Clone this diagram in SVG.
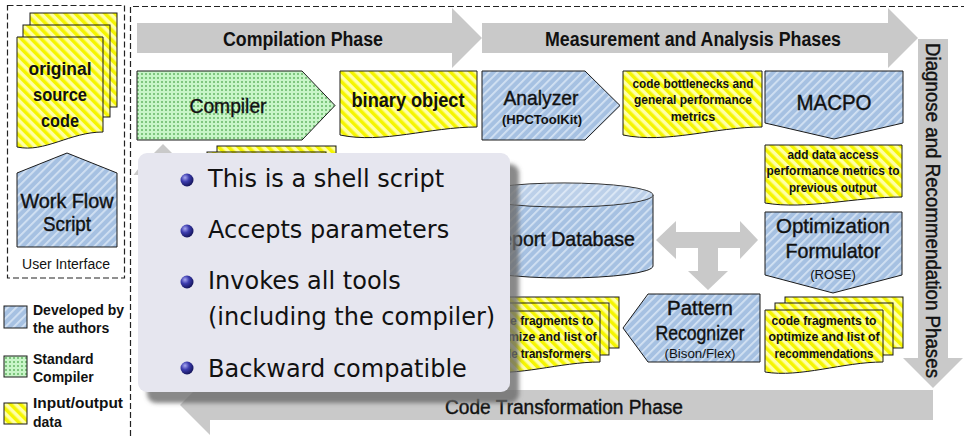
<svg xmlns="http://www.w3.org/2000/svg" width="964" height="436" viewBox="0 0 964 436">
<defs>
<pattern id="pb" width="6" height="6" patternUnits="userSpaceOnUse" patternTransform="rotate(45)">
<rect width="6" height="6" fill="#a6c1e2"/><rect width="1.8" height="6" fill="#d3e2f3"/>
</pattern>
<pattern id="py" width="7" height="7" patternUnits="userSpaceOnUse" patternTransform="rotate(-45)">
<rect width="7" height="7" fill="#ffffa6"/><rect width="3.5" height="7" fill="#f5f500"/>
</pattern>
<pattern id="pg" width="4" height="4" patternUnits="userSpaceOnUse">
<rect width="4" height="4" fill="#c8f5c8"/><circle cx="2" cy="2" r="0.8" fill="#1f8a1f"/>
</pattern>
<radialGradient id="ball" cx="0.35" cy="0.32" r="0.7">
<stop offset="0" stop-color="#a8a8f0"/><stop offset="0.45" stop-color="#3c3cae"/><stop offset="1" stop-color="#14145a"/>
</radialGradient>
<filter id="blur" x="-10%" y="-10%" width="120%" height="120%"><feGaussianBlur stdDeviation="2.2"/></filter>
</defs>
<style>
.o{stroke:#1a1a1a;stroke-width:1}
.blue{fill:url(#pb)}
.yel{fill:url(#py)}
.grn{fill:url(#pg)}
.ph{fill:#c9c9c9}
text{font-family:"Liberation Sans",Arial,sans-serif;fill:#111}
.b{font-weight:bold}
.t{stroke:#111;stroke-width:0.4}
.m{text-anchor:middle}
.pop{font-family:"DejaVu Sans","Liberation Sans",sans-serif;font-size:24px}
.dash{fill:none;stroke:#222;stroke-width:1.2;stroke-dasharray:6 3}
</style>
<rect width="964" height="436" fill="#fff"/>

<g id="frames">
<rect class="dash" x="7.5" y="5.5" width="117" height="272.5"/>
<path class="dash" d="M130.5,436 V6.5 H964"/>
</g>

<g id="phases">
<g id="phase-compilation">
<polygon class="ph" points="137,23 452,23 452,8 482,38 452,68 452,53 137,53"/>
<text class="b m" x="303" y="46" font-size="20" textLength="160" lengthAdjust="spacingAndGlyphs">Compilation Phase</text>
</g>
<g id="phase-measurement">
<polygon class="ph" points="482,23 888,23 888,8 918,38 888,68 888,53 482,53"/>
<text class="b m" x="693" y="46" font-size="20" textLength="296" lengthAdjust="spacingAndGlyphs">Measurement and Analysis Phases</text>
</g>
<g id="phase-diagnose">
<polygon class="ph" points="918,39 948,39 948,358 963,358 933,388 903,358 918,358"/>
<text class="m t" font-size="20" textLength="335" lengthAdjust="spacingAndGlyphs" transform="translate(926,210.5) rotate(90)">Diagnose and Recommendation Phases</text>
</g>
<g id="phase-transformation">
<polygon class="ph" points="933,390 210,390 210,375 180,405 210,435 210,420 933,420"/>
<text class="m t" x="564" y="414" font-size="20" textLength="238" lengthAdjust="spacingAndGlyphs">Code Transformation Phase</text>
</g>
</g>

<g id="source-code">
<rect class="yel o" x="30" y="13" width="87" height="94"/>
<rect class="yel o" x="23" y="25" width="87" height="92"/>
<path class="yel o" d="M17,37 H103 V132 C70,132 45,153 17,147 Z"/>
<text class="b m" x="60" y="75" font-size="19" textLength="63" lengthAdjust="spacingAndGlyphs">original</text>
<text class="b m" x="60" y="101" font-size="19" textLength="54" lengthAdjust="spacingAndGlyphs">source</text>
<text class="b m" x="60" y="127" font-size="19" textLength="38" lengthAdjust="spacingAndGlyphs">code</text>
</g>

<g id="workflow-script">
<path class="blue o" d="M17,173 L67,153 L117,173 V247 H17 Z"/>
<text class="m t" x="67" y="208" font-size="21" textLength="93" lengthAdjust="spacingAndGlyphs">Work Flow</text>
<text class="m t" x="67" y="231" font-size="21" textLength="48" lengthAdjust="spacingAndGlyphs">Script</text>
</g>

<g id="user-interface-label">
<text class="m" x="66" y="269" font-size="14">User Interface</text>
</g>

<g id="legend">
<rect class="blue o" x="4" y="306" width="23" height="22"/>
<text class="b" x="33" y="315" font-size="14">Developed by</text>
<text class="b" x="33" y="333" font-size="14">the authors</text>
<rect class="grn o" x="4" y="356" width="23" height="21"/>
<text class="b" x="33" y="364" font-size="14">Standard</text>
<text class="b" x="33" y="382" font-size="14">Compiler</text>
<rect class="yel o" x="4" y="403" width="23" height="21"/>
<text class="b" x="33" y="408" font-size="14" textLength="90" lengthAdjust="spacingAndGlyphs">Input/output</text>
<text class="b" x="33" y="427" font-size="14">data</text>
</g>

<g id="compiler">
<path class="grn o" d="M137,71 H302 L335,105.5 L302,140 H137 Z"/>
<text class="m t" x="228" y="113" font-size="21" textLength="77" lengthAdjust="spacingAndGlyphs">Compiler</text>
</g>

<g id="binary-object">
<path class="yel o" d="M340,71 H477 V127 C430,127 382,144 340,135 Z"/>
<text class="b m" x="408" y="107" font-size="20" textLength="113" lengthAdjust="spacingAndGlyphs">binary object</text>
</g>

<g id="analyzer">
<path class="blue o" d="M482,71 H585 L620,105.5 L585,140 H482 Z"/>
<text class="m t" x="541" y="105" font-size="21" textLength="75" lengthAdjust="spacingAndGlyphs">Analyzer</text>
<text class="b m" x="542" y="124" font-size="13" textLength="80" lengthAdjust="spacingAndGlyphs">(HPCToolKit)</text>
</g>

<g id="bottlenecks">
<path class="yel o" d="M623,71 H762 V127 C715,127 666,144 623,135 Z"/>
<text class="b m" x="693" y="88" font-size="12.5" textLength="121" lengthAdjust="spacingAndGlyphs">code bottlenecks and</text>
<text class="b m" x="693" y="104" font-size="12.5" textLength="118" lengthAdjust="spacingAndGlyphs">general performance</text>
<text class="b m" x="693" y="121" font-size="12.5">metrics</text>
</g>

<g id="macpo">
<path class="blue o" d="M765,71 H903 V123 L834,139 L765,123 Z"/>
<text class="m t" x="834" y="110" font-size="22" textLength="75" lengthAdjust="spacingAndGlyphs">MACPO</text>
</g>

<g id="data-access">
<path class="yel o" d="M765,145 H902 V197 C855,197 806,210 765,203 Z"/>
<text class="b m" x="833" y="159" font-size="12.5" textLength="91" lengthAdjust="spacingAndGlyphs">add data access</text>
<text class="b m" x="833" y="175" font-size="12.5" textLength="133" lengthAdjust="spacingAndGlyphs">performance metrics to</text>
<text class="b m" x="833" y="192" font-size="12.5" textLength="88" lengthAdjust="spacingAndGlyphs">previous output</text>
</g>

<g id="optimization-formulator">
<path class="blue o" d="M765,212 H902 V275 L833,293 L765,275 Z"/>
<text class="m t" x="833" y="233" font-size="21" textLength="114" lengthAdjust="spacingAndGlyphs">Optimization</text>
<text class="m t" x="833" y="258" font-size="21" textLength="95" lengthAdjust="spacingAndGlyphs">Formulator</text>
<text class="m" x="833" y="279" font-size="13">(ROSE)</text>
</g>

<g id="recommendations">
<rect class="yel o" x="785" y="297" width="118" height="51"/>
<rect class="yel o" x="775" y="303" width="118" height="52"/>
<path class="yel o" d="M765,310 H883 V362 C843,362 800,378 765,372 Z"/>
<text class="b m" x="824" y="325" font-size="12.5" textLength="105" lengthAdjust="spacingAndGlyphs">code fragments to</text>
<text class="b m" x="824" y="341" font-size="12.5" textLength="111" lengthAdjust="spacingAndGlyphs">optimize and list of</text>
<text class="b m" x="824" y="358" font-size="12.5" textLength="99" lengthAdjust="spacingAndGlyphs">recommendations</text>
</g>

<g id="pattern-recognizer">
<path class="blue o" d="M760,294 V362 H648 L623,328 L648,294 Z"/>
<text class="m t" x="700" y="315" font-size="20" textLength="66" lengthAdjust="spacingAndGlyphs">Pattern</text>
<text class="m t" x="700" y="340" font-size="20" textLength="89" lengthAdjust="spacingAndGlyphs">Recognizer</text>
<text class="m" x="700" y="358" font-size="13" textLength="71" lengthAdjust="spacingAndGlyphs">(Bison/Flex)</text>
</g>

<g id="transformers">
<rect class="yel o" x="501" y="297" width="118" height="51"/>
<rect class="yel o" x="491" y="303" width="118" height="52"/>
<path class="yel o" d="M482,311 H600 V362 C560,362 517,377 482,371 Z"/>
<text class="b m" x="541" y="325" font-size="12.5" textLength="105" lengthAdjust="spacingAndGlyphs">code fragments to</text>
<text class="b m" x="541" y="341" font-size="12.5" textLength="111" lengthAdjust="spacingAndGlyphs">optimize and list of</text>
<text class="b m" x="541" y="358" font-size="12.5" textLength="100" lengthAdjust="spacingAndGlyphs">code transformers</text>
</g>

<g id="report-database">
<path class="blue o" d="M475,195 V266 A89,12 0 0 0 653,266 V195"/>
<ellipse class="blue o" cx="564" cy="195" rx="89" ry="12"/>
<ellipse cx="564" cy="195" rx="89" ry="12" fill="#fff" fill-opacity="0.25"/>
<text class="m t" x="561" y="246" font-size="21" textLength="148" lengthAdjust="spacingAndGlyphs">Report Database</text>
</g>

<g id="transformed-code">
<rect class="yel o" x="217" y="146" width="119" height="60"/>
<rect class="yel o" x="207" y="152" width="119" height="60"/>
<rect class="yel o" x="197" y="158" width="119" height="60"/>
</g>

<g id="connectors">
<polygon class="ph" points="656,240 676,221 676,232 740,232 740,221 758,240 740,259 740,248 718,248 718,271 728,271 708,290 688,271 698,271 698,248 676,248 676,259"/>
<polygon class="ph" points="163,144 148,159 178,159"/>
<polygon class="ph" points="133.5,175 138.5,168.5 138.5,175"/>
</g>

<g id="popup">
<rect x="147" y="164" width="372" height="239" rx="9" fill="#6a6a6a" fill-opacity="0.8" filter="url(#blur)"/>
<rect x="138" y="153" width="372" height="239" rx="9" fill="#e6e6ef"/>
<circle cx="187" cy="180" r="6.5" fill="url(#ball)"/>
<circle cx="187" cy="231" r="6.5" fill="url(#ball)"/>
<circle cx="187" cy="282" r="6.5" fill="url(#ball)"/>
<circle cx="187" cy="368" r="6.5" fill="url(#ball)"/>
<text class="pop" x="208" y="187">This is a shell script</text>
<text class="pop" x="208" y="238">Accepts parameters</text>
<text class="pop" x="208" y="289">Invokes all tools</text>
<text class="pop" x="208" y="325">(including the compiler)</text>
<text class="pop" x="208" y="377">Backward compatible</text>
</g>
</svg>
